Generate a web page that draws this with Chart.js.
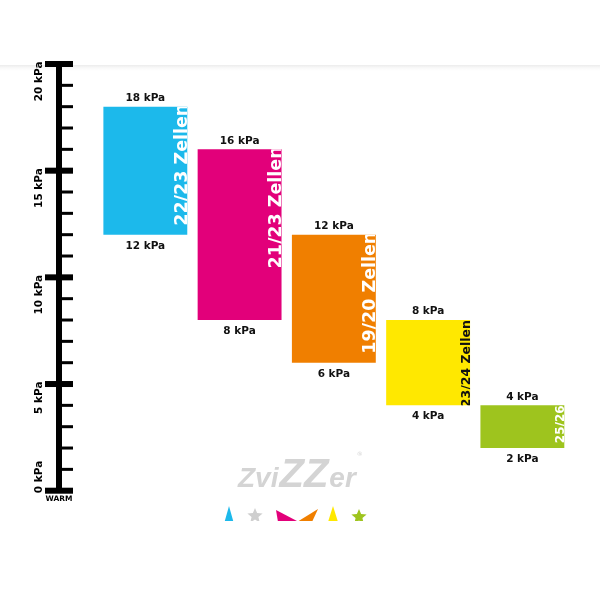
<!DOCTYPE html>
<html><head><meta charset="utf-8">
<script src="https://cdn.jsdelivr.net/npm/chart.js@4.4.1/dist/chart.umd.min.js"></script>
<style>html,body{margin:0;padding:0;background:#fff;}#wrap{width:600px;height:600px;}</style>
</head><body><div id="wrap"><canvas id="c" width="600" height="600"></canvas></div>
<script>
const categories = ['22/23', '21/23', '19/20', '23/24', '25/26'];
const lowValues = [12, 8, 6, 4, 2];
const highValues = [18, 16, 12, 8, 4];
const innerLabels = ['22/23 Zellen', '21/23 Zellen', '19/20 Zellen', '23/24 Zellen', '25/26'];
const barColors = ['#1CB9EB', '#E2007A', '#F07F00', '#FFE800', '#9EC41E'];
const innerTextColors = ['#ffffff', '#ffffff', '#ffffff', '#111111', '#ffffff'];
const innerFontSizes = [17.5, 17.5, 17.5, 12.5, 12];
const yMajorTicks = [0, 5, 10, 15, 20];
const yTickLabels = ['0 kPa', '5 kPa', '10 kPa', '15 kPa', '20 kPa'];
const yMinorStep = 1;
const unitText = 'kPa';
const axisCaption = 'WARM';

const LABEL_FONT = 'bold 10.5px "DejaVu Sans"';

const headerPlugin = {
  id: 'header',
  beforeDraw(chart) {
    const ctx = chart.ctx;
    ctx.save();
    ctx.fillStyle = '#ffffff';
    ctx.fillRect(0, 0, 600, 600);
    const g = ctx.createLinearGradient(0, 65, 0, 72);
    g.addColorStop(0, 'rgba(235,235,235,1)');
    g.addColorStop(1, 'rgba(255,255,255,0)');
    ctx.fillStyle = g;
    ctx.fillRect(0, 65, 600, 7);
    ctx.restore();
  }
};

const rulerPlugin = {
  id: 'ruler',
  afterDraw(chart) {
    const ctx = chart.ctx;
    const ys = chart.scales.y;
    const ax = 59;
    const yTop = ys.getPixelForValue(ys.max);
    const yBot = ys.getPixelForValue(ys.min);
    ctx.save();
    ctx.fillStyle = '#000';
    ctx.fillRect(ax - 3, yTop - 2, 6, yBot - yTop + 4);
    for (let v = ys.min; v <= ys.max; v += yMinorStep) {
      const py = ys.getPixelForValue(v);
      if (yMajorTicks.includes(v)) ctx.fillRect(45, py - 3, 28, 6);
      else ctx.fillRect(ax, py - 1.5, 14, 3);
    }
    ctx.font = LABEL_FONT;
    ctx.textBaseline = 'alphabetic';
    yMajorTicks.forEach((v, i) => {
      const py = ys.getPixelForValue(v);
      ctx.save();
      ctx.translate(42, py);
      ctx.rotate(-Math.PI / 2);
      if (v === ys.min) { ctx.textAlign = 'left'; ctx.fillText(yTickLabels[i], -2.5, 0); }
      else { ctx.textAlign = 'right'; ctx.fillText(yTickLabels[i], 2.5, 0); }
      ctx.restore();
    });
    ctx.font = 'bold 7.5px "DejaVu Sans"';
    ctx.textAlign = 'center';
    ctx.fillText(axisCaption, ax, yBot + 10);
    ctx.restore();
  }
};

const barLabelPlugin = {
  id: 'barLabels',
  afterDatasetsDraw(chart) {
    const ctx = chart.ctx;
    const meta = chart.getDatasetMeta(0);
    meta.data.forEach((bar, i) => {
      const p = bar.getProps(['x', 'y', 'base', 'width'], true);
      const top = Math.min(p.y, p.base), bottom = Math.max(p.y, p.base);
      const left = p.x - p.width / 2, right = p.x + p.width / 2;
      ctx.save();
      ctx.fillStyle = '#111';
      ctx.font = LABEL_FONT;
      ctx.textAlign = 'center';
      ctx.textBaseline = 'alphabetic';
      ctx.fillText(highValues[i] + ' ' + unitText, p.x, top - 5.7);
      ctx.fillText(lowValues[i] + ' ' + unitText, p.x, bottom + 14);
      ctx.beginPath();
      ctx.rect(left, top, p.width, bottom - top);
      ctx.clip();
      ctx.translate(right - 0.5, top - (innerFontSizes[i] > 14 ? 3 : 0));
      ctx.rotate(-Math.PI / 2);
      ctx.fillStyle = innerTextColors[i];
      ctx.font = 'bold ' + innerFontSizes[i] + 'px "DejaVu Sans"';
      ctx.textAlign = 'right';
      ctx.fillText(innerLabels[i], 0, 0);
      ctx.restore();
    });
  }
};

const logoPlugin = {
  id: 'logo',
  afterDraw(chart) {
    const ctx = chart.ctx;
    ctx.save();
    ctx.fillStyle = '#d4d4d4';
    ctx.textBaseline = 'alphabetic';
    let x = 238;
    const parts = [['Zvi', 'italic bold 28px "Liberation Sans"'], ['ZZ', 'italic bold 40px "Liberation Sans"'], ['er', 'italic bold 28px "Liberation Sans"']];
    parts.forEach(([t, f]) => { ctx.font = f; ctx.fillText(t, x, 487); x += ctx.measureText(t).width + 1; });
    ctx.font = '6px "DejaVu Sans"';
    ctx.fillText('®', x, 456);
    ctx.beginPath();
    ctx.rect(200, 500, 200, 21);
    ctx.clip();
    const tri = (cx, w, col) => { ctx.fillStyle = col; ctx.beginPath(); ctx.moveTo(cx, 506); ctx.lineTo(cx + w / 2, 522); ctx.lineTo(cx - w / 2, 522); ctx.closePath(); ctx.fill(); };
    const star = (cx, cy, r, col) => {
      ctx.fillStyle = col; ctx.beginPath();
      for (let k = 0; k < 10; k++) {
        const a = -Math.PI / 2 + k * Math.PI / 5;
        const rr = k % 2 ? r * 0.45 : r;
        ctx.lineTo(cx + rr * Math.cos(a), cy + rr * Math.sin(a));
      }
      ctx.closePath(); ctx.fill();
    };
    tri(229, 9, '#1CB9EB');
    star(255, 516, 8, '#cfcfcf');
    ctx.fillStyle = '#E2007A'; ctx.beginPath(); ctx.moveTo(276, 510); ctx.lineTo(297, 521); ctx.lineTo(278, 522); ctx.closePath(); ctx.fill();
    ctx.fillStyle = '#F07F00'; ctx.beginPath(); ctx.moveTo(318, 509); ctx.lineTo(312, 522); ctx.lineTo(297, 522); ctx.closePath(); ctx.fill();
    tri(333, 10, '#FFE800');
    star(359, 517, 8, '#9EC41E');
    ctx.restore();
  }
};

new Chart(document.getElementById('c'), {
  type: 'bar',
  data: {
    labels: categories,
    datasets: [{
      data: categories.map((c, i) => [lowValues[i], highValues[i]]),
      backgroundColor: barColors,
      borderWidth: 0,
      barPercentage: 0.89,
      categoryPercentage: 1
    }]
  },
  options: {
    responsive: false,
    animation: false,
    devicePixelRatio: 1,
    layout: { padding: { left: 98.2, right: 30.5, top: 64, bottom: 109.3 } },
    plugins: { legend: { display: false }, tooltip: { enabled: false } },
    scales: {
      x: { display: false },
      y: { display: false, min: 0, max: 20 }
    }
  },
  plugins: [headerPlugin, barLabelPlugin, rulerPlugin, logoPlugin]
});
</script></body></html>
